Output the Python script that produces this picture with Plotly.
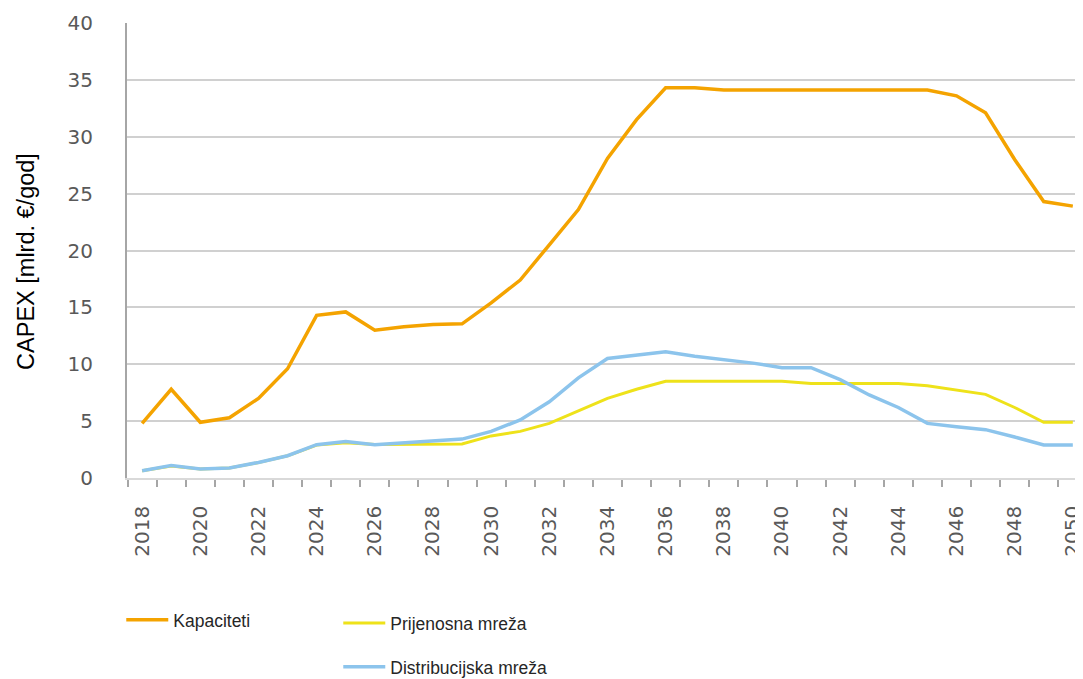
import plotly.graph_objects as go

years = list(range(2018, 2051))

kapaciteti = [4.8, 7.8, 4.9, 5.3, 7.0, 9.6, 14.3, 14.6, 13.0, 13.3, 13.5, 13.55,
              15.4, 17.4, 20.5, 23.6, 28.1, 31.5, 34.3, 34.3, 34.1, 34.1, 34.1, 34.1,
              34.1, 34.1, 34.1, 34.1, 33.6, 32.1, 28.0, 24.3, 23.9]

prijenosna = [0.64, 1.05, 0.8, 0.88, 1.35, 1.95, 2.9, 3.1, 2.95, 2.95, 3.0, 3.0,
              3.7, 4.1, 4.8, 5.9, 7.0, 7.8, 8.5, 8.5, 8.5, 8.5, 8.5, 8.3,
              8.3, 8.3, 8.3, 8.1, 7.7, 7.35, 6.2, 4.9, 4.9]

distribucijska = [0.64, 1.1, 0.8, 0.88, 1.37, 1.96, 2.93, 3.2, 2.93, 3.07, 3.25, 3.42,
                  4.1, 5.1, 6.7, 8.8, 10.5, 10.8, 11.1, 10.7, 10.4, 10.1, 9.7, 9.7,
                  8.65, 7.3, 6.2, 4.8, 4.5, 4.25, 3.6, 2.9, 2.9]

series_names = ["Kapaciteti", "Prijenosna mreža", "Distribucijska mreža"]
colors = ["#F4A300", "#EEE21A", "#8CC4EC"]

y_title = "CAPEX [mlrd. €/god]"
tick_years = [y for y in years if y % 2 == 0]

fig = go.Figure()
fig.add_trace(go.Scatter(x=years, y=prijenosna, name=series_names[1], mode="lines",
                         line=dict(color=colors[1], width=3), legend="legend2"))
fig.add_trace(go.Scatter(x=years, y=distribucijska, name=series_names[2], mode="lines",
                         line=dict(color=colors[2], width=3.5), legend="legend3"))
fig.add_trace(go.Scatter(x=years, y=kapaciteti, name=series_names[0], mode="lines",
                         line=dict(color=colors[0], width=3.5), legend="legend"))

legend_font = dict(family="Liberation Sans, Arial, sans-serif", size=17.5, color="#262626")
tick_font = dict(family="DejaVu Sans, sans-serif", size=20, color="#595959")

fig.update_layout(
    width=1075, height=671,
    margin=dict(l=119, r=0, t=15, b=201, autoexpand=False),
    plot_bgcolor="white", paper_bgcolor="white",
    showlegend=True,
    legend=dict(x=-0.006, y=-0.312, xanchor="left", yanchor="middle", font=legend_font,
                bgcolor="rgba(0,0,0,0)", itemwidth=42),
    legend2=dict(x=0.221, y=-0.319, xanchor="left", yanchor="middle", font=legend_font,
                 bgcolor="rgba(0,0,0,0)", itemwidth=42),
    legend3=dict(x=0.221, y=-0.415, xanchor="left", yanchor="middle", font=legend_font,
                 bgcolor="rgba(0,0,0,0)", itemwidth=42),
    xaxis=dict(
        range=[2017.48, 2050.35],
        tickmode="array", tickvals=tick_years, ticktext=[str(y) for y in tick_years],
        tickangle=-90, ticks="", ticklabelstandoff=18, ticklabeloverflow="allow",
        tickfont=tick_font,
        showgrid=False, zeroline=False,
        showline=True, linecolor="#d9d9d9", linewidth=1.5,
        minor=dict(tickvals=[y - 0.5 for y in years] + [years[-1] + 0.5],
                   ticks="outside", ticklen=7, tickcolor="#a6a6a6", tickwidth=1.5,
                   showgrid=False),
    ),
    yaxis=dict(
        range=[0, 40], tickmode="linear", tick0=0, dtick=5,
        tickfont=tick_font,
        ticks="", ticklabelstandoff=28,
        showgrid=True, gridcolor="#d0d0d0", gridwidth=1.5,
        zeroline=False,
        showline=True, linecolor="#a6a6a6", linewidth=2,
    ),
    annotations=[dict(
        text=y_title, textangle=-90, showarrow=False,
        xref="paper", yref="paper", x=-0.1056, y=0.475,
        xanchor="center", yanchor="middle",
        font=dict(family="Liberation Sans, Arial, sans-serif", size=23.5, color="#000000"),
    )],
)

fig.write_html("out.html")
